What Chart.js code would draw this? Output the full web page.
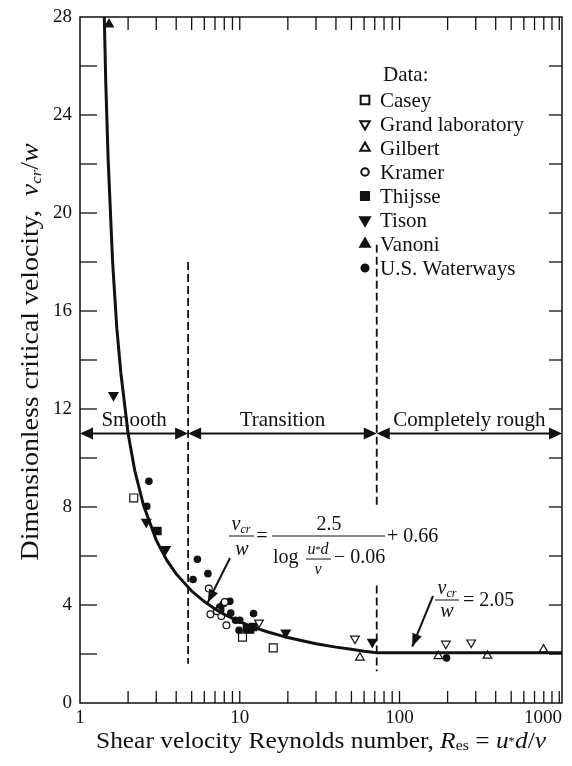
<!DOCTYPE html>
<html>
<head>
<meta charset="utf-8">
<script src="https://cdn.jsdelivr.net/npm/chart.js@4.4.1/dist/chart.umd.min.js"></script>
<style>
  html, body { margin: 0; padding: 0; background: #fff; }
  canvas { display: block; }
</style>
</head>
<body>
<canvas id="c" width="572" height="766" style="width:572px;height:766px"></canvas>
<script>
// critical velocity vs. shear velocity Reynolds number (log x)
const SERIF = '"Liberation Serif", "Times New Roman", serif';
const INK = '#111';

const xTicks = [1, 10, 100, 1000];
const yTicks = [0, 4, 8, 12, 16, 20, 24, 28];
const xMax = 1040;

// fitted curve
const curveRe = [1.4, 1.45, 1.5, 1.6, 1.7, 1.8, 2, 2.2, 2.5, 3, 3.5, 4, 5, 6, 7, 8, 10, 12, 15, 20, 30, 40, 50, 60, 72, 1040];
const curveV  = [29.7, 25.3, 22.2, 18.0, 15.3, 13.5, 11.0, 9.5, 8.06, 6.65, 5.82, 5.27, 4.57, 4.14, 3.84, 3.62, 3.32, 3.11, 2.90, 2.67, 2.42, 2.28, 2.19, 2.11, 2.05, 2.05];

// measurements [Re, v/w]
const casey     = [[2.17, 8.37], [10.4, 2.69], [16.2, 2.25]];
const grandLab  = [[13.2, 3.28], [52.6, 2.63], [195, 2.42], [281, 2.47]];
const gilbert   = [[56.5, 1.85], [175, 1.91], [355, 1.93], [797, 2.18]];
const kramer    = [[6.40, 4.67], [6.55, 3.62], [7.67, 3.55], [8.05, 4.12], [8.25, 3.17], [7.2, 3.75]];
const thijsse   = [[3.05, 7.02], [11.1, 3.04], [12.1, 3.10], [11.6, 3.0]];
const tison     = [[1.62, 12.56], [2.60, 7.39], [3.44, 6.28], [19.4, 2.87], [67.5, 2.49]];
const vanoni    = [[1.52, 27.7]];
const waterways = [[2.70, 9.05], [2.62, 8.03], [5.43, 5.87], [6.32, 5.28], [5.10, 5.04], [7.49, 3.92],
                   [7.9, 4.05], [8.67, 4.15], [8.78, 3.67], [9.4, 3.38], [10.0, 3.38], [9.9, 2.97],
                   [12.2, 3.65], [197, 1.84], [7.6, 3.8]];

// flow regimes
const regionEdges = [1, 4.75, 72, xMax];
const regionNames = ['Smooth', 'Transition', 'Completely rough'];
const regionArrowV = 11;
const dashSmooth = [[4.75, 18.0], [4.75, 1.6]];
const dashRough  = [[72, 18.7], [72, 8.0], [72, null], [72, 4.8], [72, 1.3]];

const series = [
  { label: 'Casey',            data: casey,     style: 'rect',     rot: 0,   fill: false, r: 5.6 },
  { label: 'Grand laboratory', data: grandLab,  style: 'triangle', rot: 180, fill: false, r: 5.0 },
  { label: 'Gilbert',          data: gilbert,   style: 'triangle', rot: 0,   fill: false, r: 5.0 },
  { label: 'Kramer',           data: kramer,    style: 'circle',   rot: 0,   fill: false, r: 3.4 },
  { label: 'Thijsse',          data: thijsse,   style: 'rect',     rot: 0,   fill: true,  r: 5.2 },
  { label: 'Tison',            data: tison,     style: 'triangle', rot: 180, fill: true,  r: 5.2 },
  { label: 'Vanoni',           data: vanoni,    style: 'triangle', rot: 0,   fill: true,  r: 5.0 },
  { label: 'U.S. Waterways',   data: waterways, style: 'circle',   rot: 0,   fill: true,  r: 3.2 }
];

const pts = arr => arr.map(p => ({ x: p[0], y: p[1] }));
const f = (size, italic) => (italic ? 'italic ' : '') + size + 'px ' + SERIF;

function runsWidth(ctx, runs) {
  let w = 0;
  for (const r of runs) { ctx.font = r.font; w += ctx.measureText(r.t).width; }
  return w;
}
function drawRuns(ctx, runs, x, y, align) {
  let cx = x;
  const w = runsWidth(ctx, runs);
  if (align === 'center') cx = x - w / 2;
  else if (align === 'right') cx = x - w;
  ctx.textAlign = 'left';
  ctx.textBaseline = 'alphabetic';
  for (const r of runs) {
    ctx.font = r.font;
    ctx.fillText(r.t, cx, y + (r.dy || 0));
    cx += ctx.measureText(r.t).width;
  }
}
// centred run of text stretched sideways to a set width (wider book face)
function drawRunsWide(ctx, runs, cx, y, width) {
  const k = width / runsWidth(ctx, runs);
  ctx.save();
  ctx.translate(cx, y);
  ctx.scale(k, 1);
  drawRuns(ctx, runs, 0, 0, 'center');
  ctx.restore();
}
function arrowHead(ctx, x0, y0, x1, y1, len, half) {
  const ang = Math.atan2(y1 - y0, x1 - x0);
  ctx.beginPath();
  ctx.moveTo(x1, y1);
  ctx.lineTo(x1 - len * Math.cos(ang) + half * Math.sin(ang), y1 - len * Math.sin(ang) - half * Math.cos(ang));
  ctx.lineTo(x1 - len * Math.cos(ang) - half * Math.sin(ang), y1 - len * Math.sin(ang) + half * Math.cos(ang));
  ctx.closePath();
  ctx.fill();
}
function arrow(ctx, x0, y0, x1, y1) {
  ctx.beginPath();
  ctx.moveTo(x0, y0);
  ctx.lineTo(x1, y1);
  ctx.stroke();
  arrowHead(ctx, x0, y0, x1, y1, 13, 5);
}
function hline(ctx, x0, x1, y) {
  ctx.beginPath(); ctx.moveTo(x0, y); ctx.lineTo(x1, y); ctx.stroke();
}

const deco = {
  id: 'deco',
  afterDraw(chart) {
    const { ctx, chartArea: a, scales: { x, y } } = chart;
    ctx.save();
    ctx.strokeStyle = INK;
    ctx.fillStyle = INK;

    // frame
    ctx.lineWidth = 1.5;
    ctx.strokeRect(a.left, a.top, a.right - a.left, a.bottom - a.top);

    // y ticks, inward on both sides
    ctx.lineWidth = 1.3;
    for (let v = 2; v < 28; v += 2) {
      const py = y.getPixelForValue(v);
      hline(ctx, a.left, a.left + 17, py);
      hline(ctx, a.right - 13, a.right, py);
    }
    // x ticks (log minors), inward top and bottom
    for (let d = 1; d <= 1000; d *= 10) {
      for (let k = 1; k <= 10; k++) {
        const v = d * k;
        if (v <= 1 || v > xMax || (k === 10 && d < 1000)) continue;
        const px = x.getPixelForValue(v);
        ctx.beginPath();
        ctx.moveTo(px, a.bottom); ctx.lineTo(px, a.bottom - 12);
        ctx.moveTo(px, a.top); ctx.lineTo(px, a.top + 13);
        ctx.stroke();
      }
    }

    // tick labels
    ctx.font = f(19);
    ctx.textAlign = 'right';
    ctx.textBaseline = 'middle';
    for (const v of yTicks) ctx.fillText(String(v), a.left - 8, y.getPixelForValue(v));
    ctx.textBaseline = 'top';
    for (const v of xTicks) {
      const px = x.getPixelForValue(v);
      const w = ctx.measureText(String(v)).width;
      if (px + w / 2 > chart.width - 8) { ctx.textAlign = 'right'; ctx.fillText(String(v), a.right, a.bottom + 6); }
      else { ctx.textAlign = 'center'; ctx.fillText(String(v), px, a.bottom + 6); }
    }

    // axis titles
    drawRunsWide(ctx, [
      { t: 'Shear velocity Reynolds number, ', font: f(24) },
      { t: 'R', font: f(24, true) },
      { t: 'es', font: f(15), dy: 2 },
      { t: ' = ', font: f(24) },
      { t: 'u', font: f(24, true) },
      { t: '*', font: f(12), dy: -3 },
      { t: 'd', font: f(24, true) },
      { t: '/', font: f(24) },
      { t: 'ν', font: f(24, true) }
    ], (a.left + a.right) / 2, 748, 450);

    ctx.save();
    ctx.translate(38, 352);
    ctx.rotate(-Math.PI / 2);
    drawRunsWide(ctx, [
      { t: 'Dimensionless critical velocity,  ', font: f(25) },
      { t: 'v', font: f(25, true) },
      { t: 'cr', font: f(15, true), dy: 3 },
      { t: '/', font: f(25) },
      { t: 'w', font: f(25, true) }
    ], 0, 0, 417);
    ctx.restore();

    // regime arrows and names
    ctx.lineWidth = 2;
    const ay = y.getPixelForValue(regionArrowV);
    for (let i = 0; i < regionNames.length; i++) {
      const x0 = Math.max(a.left, x.getPixelForValue(regionEdges[i]));
      const x1 = Math.min(a.right, x.getPixelForValue(regionEdges[i + 1]));
      hline(ctx, x0 + 4, x1 - 4, ay);
      arrowHead(ctx, x1, ay, x0, ay, 13, 6);
      arrowHead(ctx, x0, ay, x1, ay, 13, 6);
      ctx.font = f(21);
      ctx.textAlign = 'center';
      ctx.textBaseline = 'alphabetic';
      ctx.fillText(regionNames[i], (x0 + x1) / 2, ay - 8);
    }

    // equation for the transitional range
    const big = f(20), bigI = f(20, true), sub = f(12, true), sm = f(16, true);
    ctx.lineWidth = 1;
    drawRuns(ctx, [{ t: 'v', font: bigI }, { t: 'cr', font: sub, dy: 3 }], 241, 530, 'center');
    hline(ctx, 229, 254, 536);
    drawRuns(ctx, [{ t: 'w', font: bigI }], 242, 555, 'center');
    drawRuns(ctx, [{ t: '=', font: big }], 262, 542, 'center');
    hline(ctx, 272, 385, 536);
    drawRuns(ctx, [{ t: '2.5', font: big }], 329, 530, 'center');
    drawRuns(ctx, [{ t: 'log', font: big }], 273, 563, 'left');
    drawRuns(ctx, [{ t: 'u', font: sm }, { t: '*', font: f(10), dy: -1 }, { t: 'd', font: sm }], 318, 554, 'center');
    hline(ctx, 306, 331, 559);
    drawRuns(ctx, [{ t: 'ν', font: sm }], 318, 574, 'center');
    drawRuns(ctx, [{ t: '− 0.06', font: big }], 334, 563, 'left');
    drawRuns(ctx, [{ t: '+ 0.66', font: big }], 387, 542, 'left');

    // equation for the rough range
    drawRuns(ctx, [{ t: 'v', font: bigI }, { t: 'cr', font: sub, dy: 3 }], 447, 594, 'center');
    hline(ctx, 435, 459, 600);
    drawRuns(ctx, [{ t: 'w', font: bigI }], 447, 617, 'center');
    drawRuns(ctx, [{ t: '= 2.05', font: big }], 463, 606, 'left');

    // pointer arrows onto the curve
    ctx.lineWidth = 2;
    arrow(ctx, 230, 558, x.getPixelForValue(6.3), y.getPixelForValue(4.1));
    arrow(ctx, 433, 596, x.getPixelForValue(120), y.getPixelForValue(2.3));

    // legend
    ctx.font = f(21);
    ctx.textAlign = 'left';
    ctx.textBaseline = 'middle';
    ctx.fillText('Data:', 383, 75);
    series.forEach((s, i) => {
      const ly = 100 + i * 24;
      ctx.fillStyle = s.fill ? INK : '#fff';
      ctx.strokeStyle = INK;
      Chart.helpers.drawPoint(ctx, { pointStyle: s.style, radius: s.r * 1.1, rotation: s.rot, borderWidth: 1.5 }, 365, ly);
      ctx.fillStyle = INK;
      ctx.font = f(21);
      ctx.fillText(s.label, 380, ly + 1);
    });

    ctx.restore();
  }
};

const datasets = [
  { data: pts(curveRe.map((r, i) => [r, curveV[i]])), showLine: true, borderColor: INK, borderWidth: 3, pointRadius: 0, tension: 0 },
  { data: pts(dashSmooth), showLine: true, borderColor: INK, borderWidth: 1.8, borderDash: [8, 4], pointRadius: 0 },
  { data: pts(dashRough), showLine: true, spanGaps: false, borderColor: INK, borderWidth: 1.8, borderDash: [8, 4], pointRadius: 0 }
].concat(series.map(s => ({
  label: s.label,
  data: pts(s.data),
  pointStyle: s.style,
  rotation: s.rot,
  pointRadius: s.r,
  pointBorderWidth: 1.2,
  pointBackgroundColor: s.fill ? INK : '#fff',
  pointBorderColor: INK,
  showLine: false
})));

new Chart(document.getElementById('c'), {
  type: 'scatter',
  data: { datasets },
  options: {
    responsive: false,
    devicePixelRatio: 1,
    animation: false,
    layout: { padding: { left: 80, top: 17, right: 10, bottom: 63 } },
    scales: {
      x: { type: 'logarithmic', min: 1, max: xMax, display: false },
      y: { min: 0, max: 28, display: false }
    },
    plugins: { legend: { display: false }, tooltip: { enabled: false } }
  },
  plugins: [deco]
});
</script>
</body>
</html>
